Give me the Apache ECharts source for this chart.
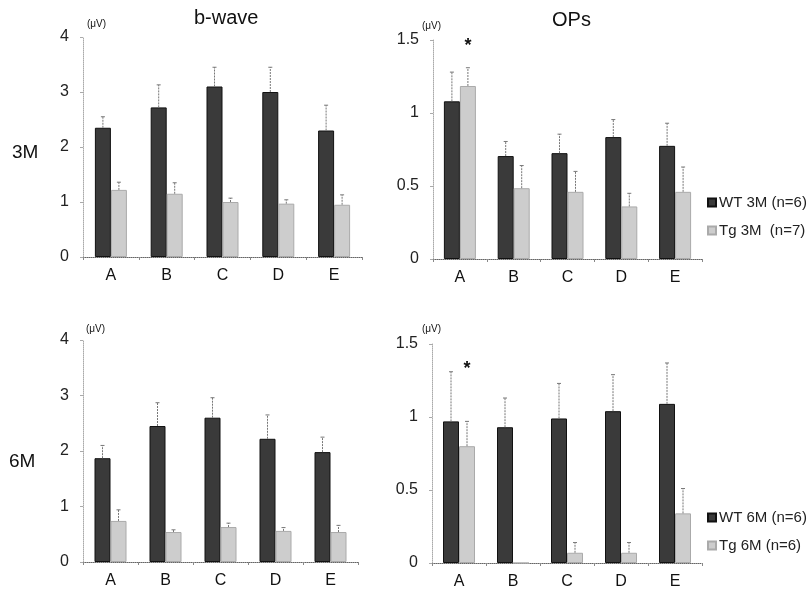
<!DOCTYPE html>
<html><head><meta charset="utf-8">
<script src="https://cdn.jsdelivr.net/npm/echarts@6/dist/echarts.min.js"></script>
<style>html,body{margin:0;padding:0;background:#fff}#c{width:810px;height:595px}</style>
</head><body><div id="c"></div>
<script>
var categories = ['A','B','C','D','E'];
// b-wave 3M
var bw3_wt = [2.35, 2.72, 3.1, 3.0, 2.3];
var bw3_wt_err = [0.2, 0.41, 0.35, 0.45, 0.46];
var bw3_tg = [1.22, 1.15, 1.0, 0.97, 0.95];
var bw3_tg_err = [0.14, 0.2, 0.07, 0.07, 0.18];
// OPs 3M
var op3_wt = [1.08, 0.705, 0.725, 0.835, 0.775];
var op3_wt_err = [0.2, 0.1, 0.13, 0.12, 0.155];
var op3_tg = [1.185, 0.485, 0.46, 0.36, 0.46];
var op3_tg_err = [0.125, 0.155, 0.14, 0.09, 0.17];
// b-wave 6M
var bw6_wt = [1.87, 2.45, 2.6, 2.22, 1.98];
var bw6_wt_err = [0.23, 0.42, 0.36, 0.43, 0.27];
var bw6_tg = [0.74, 0.54, 0.63, 0.56, 0.54];
var bw6_tg_err = [0.2, 0.04, 0.07, 0.06, 0.12];
// OPs 6M
var op6_wt = [0.97, 0.93, 0.99, 1.04, 1.09];
var op6_wt_err = [0.34, 0.2, 0.24, 0.25, 0.28];
var op6_tg = [0.8, 0, 0.07, 0.07, 0.34];
var op6_tg_err = [0.17, 0, 0.07, 0.07, 0.17];
// significance marks [category index, height]
var op3_sig = [[0, 1.46]];
var op6_sig = [[0, 1.33]];
var bwTicks = {min: 0, max: 4, interval: 1};
var opTicks = {min: 0, max: 1.5, interval: 0.5};
var legendTop = ['WT 3M (n=6)', 'Tg 3M  (n=7)'];
var legendBottom = ['WT 6M (n=6)', 'Tg 6M (n=6)'];

var FONT = 'Liberation Sans, Arial, sans-serif';
var BW = 16;
var WT_COLOR = '#3a3a3a', TG_COLOR = '#cdcdcd';

var grids = [
  {left: 83, top: 37, width: 279, height: 220},
  {left: 433, top: 40, width: 269, height: 219},
  {left: 83, top: 340, width: 275, height: 222},
  {left: 432, top: 344, width: 270, height: 219}
];
function xAx(i){
  return {type:'category', gridIndex:i, data:categories,
    axisLine:{lineStyle:{color:'#666', width:1, type:'dotted'}},
    axisTick:{show:true, length:3, lineStyle:{color:'#888'}},
    axisLabel:{fontSize:16, color:'#111', margin:11, fontFamily:FONT}};
}
function yAx(i, t){
  return {type:'value', gridIndex:i, min:t.min, max:t.max, interval:t.interval,
    splitLine:{show:false},
    axisLine:{show:true, lineStyle:{color:'#aaa', type:'dotted'}},
    axisTick:{show:true, length:3, lineStyle:{color:'#aaa'}},
    axisLabel:{fontSize:16, color:'#222', margin:14, fontFamily:FONT}};
}
function bar(name, i, data, color, border){
  return {type:'bar', name:name, xAxisIndex:i, yAxisIndex:i, data:data, barWidth:BW, barGap:'0%',
    itemStyle:{color:color, borderColor:border, borderWidth:1}, animation:false};
}
function err(i, means, errs, off){
  var d = means.map(function(m, k){ return [k, m, errs[k]]; });
  return {type:'custom', xAxisIndex:i, yAxisIndex:i, data:d, encode:{x:0, y:1}, z:5, animation:false,
    renderItem:function(p, api){
      var e = api.value(2); if (!e) return null;
      var idx = api.value(0), m = api.value(1);
      var p0 = api.coord([idx, m]), p1 = api.coord([idx, m + e]);
      var x = p0[0] + off;
      return {type:'group', children:[
        {type:'line', shape:{x1:x, y1:p0[1], x2:x, y2:p1[1]}, style:{stroke:'#777', lineWidth:1, lineDash:[2,1]}},
        {type:'line', shape:{x1:x-2, y1:p1[1], x2:x+2, y2:p1[1]}, style:{stroke:'#777', lineWidth:1}}
      ]};
    }};
}
function sig(i, data, off){
  return {type:'custom', xAxisIndex:i, yAxisIndex:i, data:data, encode:{x:0, y:1}, z:6, animation:false,
    renderItem:function(p, api){
      var c = api.coord([api.value(0), api.value(1)]);
      return {type:'text', x:c[0] + off, y:c[1], style:{text:'*', fontSize:18, fontWeight:'bold', fill:'#111', align:'center', verticalAlign:'middle', fontFamily:FONT}};
    }};
}

var series = [
  bar(legendTop[0], 0, bw3_wt, WT_COLOR, '#111'), bar(legendTop[1], 0, bw3_tg, TG_COLOR, '#aaa'),
  err(0, bw3_wt, bw3_wt_err, -BW/2), err(0, bw3_tg, bw3_tg_err, BW/2),
  bar(legendTop[0], 1, op3_wt, WT_COLOR, '#111'), bar(legendTop[1], 1, op3_tg, TG_COLOR, '#aaa'),
  err(1, op3_wt, op3_wt_err, -BW/2), err(1, op3_tg, op3_tg_err, BW/2), sig(1, op3_sig, BW/2),
  bar(legendBottom[0], 2, bw6_wt, WT_COLOR, '#111'), bar(legendBottom[1], 2, bw6_tg, TG_COLOR, '#aaa'),
  err(2, bw6_wt, bw6_wt_err, -BW/2), err(2, bw6_tg, bw6_tg_err, BW/2),
  bar(legendBottom[0], 3, op6_wt, WT_COLOR, '#111'), bar(legendBottom[1], 3, op6_tg, TG_COLOR, '#aaa'),
  err(3, op6_wt, op6_wt_err, -BW/2), err(3, op6_tg, op6_tg_err, BW/2), sig(3, op6_sig, BW/2)
];

function leg(top, names){
  return {orient:'vertical', left:702, top:top, itemWidth:8, itemHeight:8, itemGap:13,
    icon:'rect', data:names, textStyle:{fontSize:15, color:'#222', fontFamily:FONT, padding:[0,0,0,-2]},
    selectedMode:false};
}
function txt(x, y, s, size){
  return {type:'text', left:x, top:y, style:{text:s, fontSize:size, fill:'#111', fontFamily:FONT}};
}
var chart = echarts.init(document.getElementById('c'));
chart.setOption({
  backgroundColor:'#fff',
  animation:false,
  grid:grids,
  xAxis:[xAx(0), xAx(1), xAx(2), xAx(3)],
  yAxis:[yAx(0,bwTicks), yAx(1,opTicks), yAx(2,bwTicks), yAx(3,opTicks)],
  legend:[leg(190, legendTop), leg(505, legendBottom)],
  series:series,
  graphic:[
    txt(194, 8, 'b-wave', 20), txt(552, 10, 'OPs', 20),
    txt(12, 143, '3M', 19), txt(9, 452, '6M', 19),
    txt(87, 19, '(μV)', 10), txt(422, 21, '(μV)', 10),
    txt(86, 324, '(μV)', 10), txt(422, 324, '(μV)', 10)
  ]
});
</script></body></html>
